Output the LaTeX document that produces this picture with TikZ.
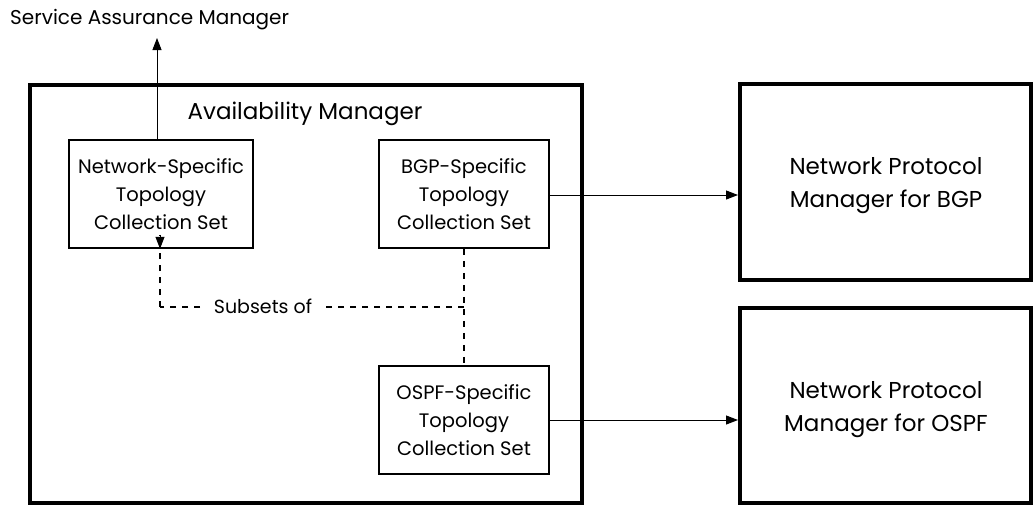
\documentclass[tikz,border=0pt]{standalone}
\usepackage{fontspec}
\setmainfont{Poppins}
\usetikzlibrary{arrows.meta}
\begin{document}
\begin{tikzpicture}[x=1pt,y=-1pt,
  thickbox/.style={draw,line width=4.5pt},
  setbox/.style={draw,line width=1.6pt,align=center,inner sep=0pt,font=\fontsize{19.5}{28}\selectfont},
  tip/.style={-{Triangle[length=12pt,width=9pt]}},
  link/.style={line width=1pt,tip},
  dotlink/.style={line width=1.6pt,dash pattern=on 6pt off 6pt}]
\useasboundingbox (0,0) rectangle (1034,507);
% outer manager boxes
\draw[thickbox] (30,85) rectangle (582,503);
\node[font=\fontsize{23}{26}\selectfont,anchor=center] (am) at (305,114) {Availability Manager};
\draw[thickbox] (740,84) rectangle (1031,280);
\node[draw=none,align=center,font=\fontsize{23}{33}\selectfont] (bgpm) at (886,186) {Network Protocol\\Manager for BGP};
\draw[thickbox] (740,308) rectangle (1031,503);
\node[draw=none,align=center,font=\fontsize{23}{33}\selectfont] (ospfm) at (886,410) {Network Protocol\\Manager for OSPF};
\coordinate (bgpin) at (738,195);
\coordinate (ospfin) at (738,420);
% collection sets
\node[setbox,minimum width=184pt,minimum height=108pt] (net) at (161,194) {Network-Specific\\Topology\\Collection Set};
\node[setbox,minimum width=170pt,minimum height=108pt] (bgp) at (464,194) {BGP-Specific\\Topology\\Collection Set};
\node[setbox,minimum width=170pt,minimum height=108pt] (ospf) at (464,420) {OSPF-Specific\\Topology\\Collection Set};
% top label
\node[font=\fontsize{20}{24}\selectfont,anchor=west,inner xsep=0pt] (sam) at (10,20) {Service Assurance Manager};
\coordinate (samin) at (157,38);
\draw[link] (net.north -| samin) -- (samin);
% protocol links
\draw[link] (bgp.east |- bgpin) -- (bgpin);
\draw[link] (ospf.east |- ospfin) -- (ospfin);
% subset relation
\coordinate (corner) at (464,307);
\coordinate (lcorner) at (160,307);
\draw[dotlink] (bgp.south) -- (ospf.north);
\draw[dotlink] (corner) -- (lcorner);
\draw[dotlink] (lcorner) -- ([yshift=14pt]net.south -| lcorner);
\draw[line width=1pt,tip] ([yshift=14pt]net.south -| lcorner) -- (net.south -| lcorner);
\node[fill=white,font=\fontsize{19}{22}\selectfont,inner xsep=10pt] (sub) at (263,306) {Subsets of};
\end{tikzpicture}
\end{document}
